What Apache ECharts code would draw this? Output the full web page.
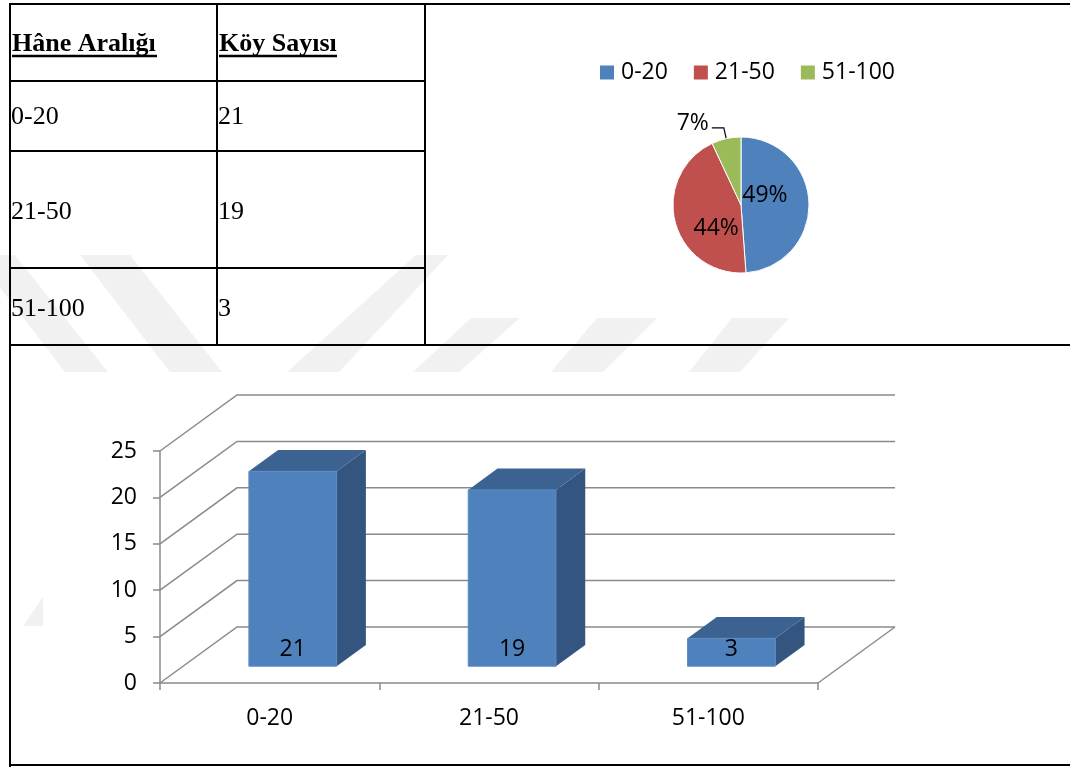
<!DOCTYPE html>
<html>
<head>
<meta charset="utf-8">
<script src="https://cdn.jsdelivr.net/npm/echarts@6/dist/echarts.min.js"></script>
<style>
html,body{margin:0;padding:0;background:#fff;}
#main{width:1070px;height:767px;}
</style>
</head>
<body>
<div id="main"></div>
<script>
// ---- data ----
const tableHeaders = ['Hâne Aralığı', 'Köy Sayısı'];
const categories = ['0-20', '21-50', '51-100'];
const counts = [21, 19, 3];
const pieColors = ['#4F81BD', '#C0504D', '#9BBB59'];
const yTicks = [0, 5, 10, 15, 20, 25];

// ---- layout constants ----
const DX = 77, DY = -56;          // depth offset of the 3D box
const F0 = 0.3, FD = 0.38;        // bar depth position / depth
const GRID_COLOR = '#8a8a8a';
const SANS = "'Open Sans', 'DejaVu Sans', sans-serif";
const FS = 23;
const SERIF = "'Liberation Serif', 'Times New Roman', serif";

const chart = echarts.init(document.getElementById('main'), null, {renderer: 'canvas'});

const g = [];
// faint watermark
const wm = [
  [[-25,255],[15,255],[108,372],[65,372]],
  [[80,255],[130,255],[222,372],[170,372]],
  [[416,255],[448,255],[339,372],[287,372]],
  [[471,318],[520,318],[459,372],[413,372]],
  [[597,318],[657,318],[603,372],[551,372]],
  [[732,318],[789,318],[740,372],[689,372]],
  [[43,597],[43,626],[23,626]]
];
wm.forEach(p => g.push({type:'polygon', z:-10, silent:true, shape:{points:p}, style:{fill:'#f1f1f1'}}));

function L(x1,y1,x2,y2){ g.push({type:'line', z:10, shape:{x1,y1,x2,y2}, style:{stroke:'#000', lineWidth:2}}); }
L(9,4,1070,4);
L(10,3,10,767);
L(217,4,217,345);
L(425,4,425,345);
L(10,81,425,81);
L(10,151,425,151);
L(10,268,425,268);
L(9,345,1070,345);
L(9,765,1070,765);

function T(x,y,text,bold){
  g.push({type:'text', z:11, x:x, y:y,
    style:{text:text, fontFamily:SERIF, fontSize:26, fontWeight:bold?'bold':'normal', fill:'#000',
      textAlign:'left', textVerticalAlign:'middle', align:'left', verticalAlign:'middle'}});
}
T(12,44,tableHeaders[0],true);
T(219,44,tableHeaders[1],true);
g.push({type:'line', z:11, shape:{x1:12,y1:56,x2:157,y2:56}, style:{stroke:'#000', lineWidth:2.5}});
g.push({type:'line', z:11, shape:{x1:219,y1:56,x2:337,y2:56}, style:{stroke:'#000', lineWidth:2.5}});
const rowY = [117, 212, 309];
categories.forEach((c,i) => {
  T(11,rowY[i],c,false);
  T(218,rowY[i],String(counts[i]),false);
});

const option = {
  animation: false,
  backgroundColor: '#fff',
  graphic: g,
  legend: {
    data: categories,
    left: 600, top: 61, padding: 0,
    icon: 'rect', itemWidth: 14, itemHeight: 14, itemGap: 26,
    itemStyle: {borderWidth: 0},
    textStyle: {fontFamily: SANS, fontSize: FS, color: '#000', padding: [0, 0, 0, 2]}
  },
  grid: {left: 160, right: 252, top: 451, bottom: 84},
  xAxis: {
    type: 'category', data: categories, boundaryGap: true,
    axisLine: {lineStyle: {color: GRID_COLOR, width: 1.5}},
    axisTick: {show: true, length: 7, lineStyle: {color: GRID_COLOR, width: 1.5}},
    axisLabel: {fontFamily: SANS, fontSize: FS, color: '#000', margin: 24},
    splitLine: {show: false}
  },
  yAxis: {
    type: 'value', min: 0, max: 25, interval: 5,
    axisLine: {show: true, lineStyle: {color: GRID_COLOR, width: 1.5}},
    axisTick: {show: true, length: 7, lineStyle: {color: GRID_COLOR, width: 1.5}},
    axisLabel: {fontFamily: SANS, fontSize: FS, color: '#000', margin: 23},
    splitLine: {show: false}
  },
  series: [
    {
      type: 'pie',
      center: [741, 205], radius: 68,
      startAngle: 90, clockwise: true,
      avoidLabelOverlap: false,
      itemStyle: {borderColor: '#fff', borderWidth: 1},
      label: {show: true, position: 'inside', fontFamily: SANS, fontSize: FS, color: '#000',
        formatter: p => Math.round(p.percent) + '%'},
      labelLine: {show: false},
      labelLayout: function (p) {
        const off = [[-13, -8], [11, 14], [2, -4]];
        return {dx: off[p.dataIndex][0], dy: off[p.dataIndex][1]};
      },
      data: categories.map((c, i) => {
        const d = {name: c, value: counts[i], itemStyle: {color: pieColors[i]}};
        if (i === 2) {
          d.label = {position: 'outside', distanceToLabelLine: 5};
          d.labelLine = {show: true, length: 11, length2: 12, lineStyle: {color: '#000', width: 1.2}};
        }
        return d;
      })
    },
    {
      // back walls / gridlines of the 3D frame
      type: 'custom', z: 1, silent: true,
      data: yTicks.map(v => [0, v]),
      renderItem: function (params, api) {
        const cs = params.coordSys;
        const v = api.value(1);
        const y = api.coord([0, v])[1];
        const left = cs.x, right = cs.x + cs.width;
        const ch = [{
          type: 'polyline',
          shape: {points: [[left, y], [left + DX, y + DY], [right + DX, y + DY]]},
          style: {stroke: GRID_COLOR, lineWidth: 1.5, fill: null}
        }];
        if (v === 0) {
          ch.push({type: 'line', shape: {x1: right, y1: y, x2: right + DX, y2: y + DY},
            style: {stroke: GRID_COLOR, lineWidth: 1.5}});
        }
        return {type: 'group', children: ch};
      }
    },
    {
      // 3D bars
      type: 'custom', z: 3, silent: true,
      data: counts.map((v, i) => [i, v]),
      renderItem: function (params, api) {
        const i = api.value(0), v = api.value(1);
        const base = api.coord([i, 0]);
        const top = api.coord([i, v]);
        const w = api.size([1, 0])[0] * 0.4;
        const cx = base[0] + F0 * DX;
        const x0 = cx - w / 2, x1 = cx + w / 2;
        const yb = base[1] + F0 * DY, yt = top[1] + F0 * DY;
        const ddx = FD * DX, ddy = FD * DY;
        return {
          type: 'group',
          children: [
            {type: 'polygon', shape: {points: [[x1, yb], [x1 + ddx, yb + ddy], [x1 + ddx, yt + ddy], [x1, yt]]},
              style: {fill: '#34557F'}},
            {type: 'polygon', shape: {points: [[x0, yt], [x1, yt], [x1 + ddx, yt + ddy], [x0 + ddx, yt + ddy]]},
              style: {fill: '#3C6291'}},
            {type: 'rect', shape: {x: x0, y: yt, width: w, height: yb - yt},
              style: {fill: '#4F81BD', stroke: '#5a8ac4', lineWidth: 1}},
            {type: 'text', x: cx, y: yb - 17,
              style: {text: String(v), fontFamily: SANS, fontSize: FS, fill: '#000',
                textAlign: 'center', textVerticalAlign: 'middle', verticalAlign: 'middle', align: 'center'}}
          ]
        };
      }
    }
  ]
};
chart.setOption(option);
</script>
</body>
</html>
